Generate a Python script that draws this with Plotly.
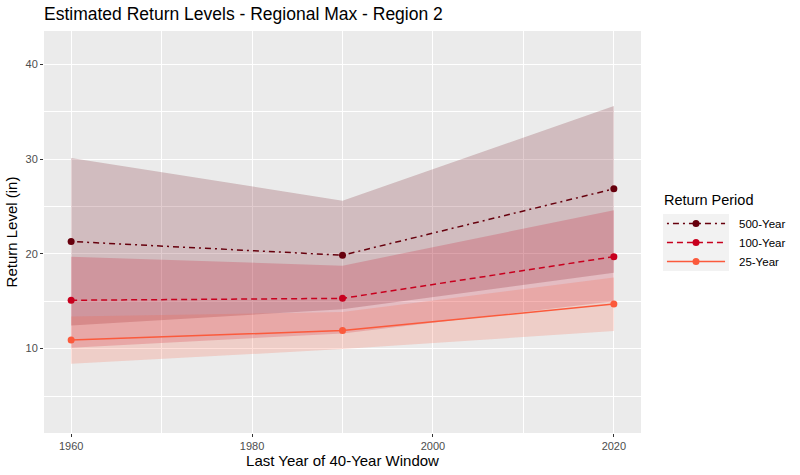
import plotly.graph_objects as go

# return levels (inches)
years = [1960, 1990, 2020]

rl_500 = [21.3, 19.85, 26.85]
lo_500 = [12.45, 14.15, 18.0]
hi_500 = [30.1, 25.6, 35.6]

rl_100 = [15.1, 15.3, 19.7]
lo_100 = [10.1, 11.6, 15.0]
hi_100 = [19.7, 18.75, 24.6]

rl_25 = [10.9, 11.9, 14.7]
lo_25 = [8.4, 9.95, 11.85]
hi_25 = [13.4, 13.85, 17.5]

series = [
	('500-Year', rl_500, lo_500, hi_500, '#67000D', (103, 0, 13), '2px,4px,6px,4px'),
	('100-Year', rl_100, lo_100, hi_100, '#C8001E', (200, 0, 30), '6px,4px'),
	('25-Year', rl_25, lo_25, hi_25, '#FB5A3C', (251, 90, 60), 'solid'),
]

W, H = 800, 475
L, R, T, B = 44, 10, 31, 42
pw, ph = W - L - R, H - T - B

def px_x(x):  # pixel -> paper
	return (x - L) / pw

def px_y(y):
	return (H - B - y) / ph

fig = go.Figure()

# ribbons first so lines sit on top
for name, rl, lo, hi, col, rgb, dash in series:
	fill = 'rgba(%d,%d,%d,0.2)' % rgb
	fig.add_trace(go.Scatter(
		x = years, y = lo, mode = 'lines', line = dict(width = 0),
		showlegend = False, hoverinfo = 'skip'
	))
	fig.add_trace(go.Scatter(
		x = years, y = hi, mode = 'lines', line = dict(width = 0),
		fill = 'tonexty', fillcolor = fill,
		showlegend = False, hoverinfo = 'skip'
	))

for name, rl, lo, hi, col, rgb, dash in series:
	fig.add_trace(go.Scatter(
		x = years, y = rl, name = name, mode = 'lines+markers',
		line = dict(color = col, width = 1.5, dash = dash),
		marker = dict(color = col, size = 7), showlegend = False,
	))

# ggplot-like legend: wide keys drawn in a small side subplot
n = len(series)
for i, (name, rl, lo, hi, col, rgb, dash) in enumerate(series):
	row = n - i - 0.5
	fig.add_trace(go.Scatter(
		x = [0.06, 0.94], y = [row, row], mode = 'lines',
		line = dict(color = col, width = 1.5, dash = dash),
		xaxis = 'x2', yaxis = 'y2', showlegend = False, hoverinfo = 'skip'
	))
	fig.add_trace(go.Scatter(
		x = [0.5], y = [row], mode = 'markers',
		marker = dict(color = col, size = 7),
		xaxis = 'x2', yaxis = 'y2', showlegend = False, hoverinfo = 'skip'
	))
	fig.add_annotation(
		x = px_x(737), y = row, xref = 'paper', yref = 'y2',
		text = name, showarrow = False, xanchor = 'left', yanchor = 'middle',
		font = dict(size = 11.5, color = 'black')
	)

fig.add_annotation(
	x = px_x(662), y = px_y(200), xref = 'paper', yref = 'paper',
	text = 'Return Period', showarrow = False, xanchor = 'left', yanchor = 'middle',
	font = dict(size = 14.5, color = 'black')
)

fig.add_shape(
	type = 'rect', xref = 'x2 domain', yref = 'y2 domain',
	x0 = 0, x1 = 1, y0 = 0, y1 = 1,
	fillcolor = '#F2F2F2', line = dict(width = 0), layer = 'below'
)

axis_common = dict(
	showgrid = True, gridcolor = 'white', gridwidth = 1.2,
	zeroline = False, showline = False, automargin = False,
	ticks = 'outside', ticklen = 3, tickwidth = 1.1, tickcolor = '#333333',
	tickfont = dict(size = 11, color = '#4D4D4D'),
)

fig.update_layout(
	width = W, height = H,
	margin = dict(l = L, r = R, t = T, b = B),
	paper_bgcolor = 'white', plot_bgcolor = '#EBEBEB',
	font = dict(family = 'Liberation Sans, Arial, sans-serif', color = 'black'),
	showlegend = False,
	title = dict(
		text = 'Estimated Return Levels - Regional Max - Region 2',
		x = L / W, xanchor = 'left', y = 1 - 14 / H, yanchor = 'middle',
		font = dict(size = 17.5, color = 'black')
	),
	xaxis = dict(
		axis_common, range = [1957, 2023], tickvals = [1960, 1980, 2000, 2020],
		domain = [0, px_x(641)],
		minor = dict(tickvals = [1970, 1990, 2010], showgrid = True, gridcolor = 'white', gridwidth = 0.6, ticks = ''),
		title = dict(text = 'Last Year of 40-Year Window', font = dict(size = 15), standoff = 4),
	),
	yaxis = dict(
		axis_common, range = [1.1, 43.5], tickvals = [10, 20, 30, 40],
		minor = dict(tickvals = [5, 15, 25, 35], showgrid = True, gridcolor = 'white', gridwidth = 0.6, ticks = ''),
		title = dict(text = 'Return Level (in)', font = dict(size = 15), standoff = 4),
	),
	xaxis2 = dict(
		domain = [px_x(663), px_x(729)], range = [0, 1], anchor = 'y2',
		visible = False, fixedrange = True,
	),
	yaxis2 = dict(
		domain = [px_y(271), px_y(214)], range = [0, n], anchor = 'x2',
		visible = False, fixedrange = True,
	),
)

fig.write_html(
	'out.html', config = dict(displayModeBar = False),
	post_script = "document.body.style.margin = '0';"
)
